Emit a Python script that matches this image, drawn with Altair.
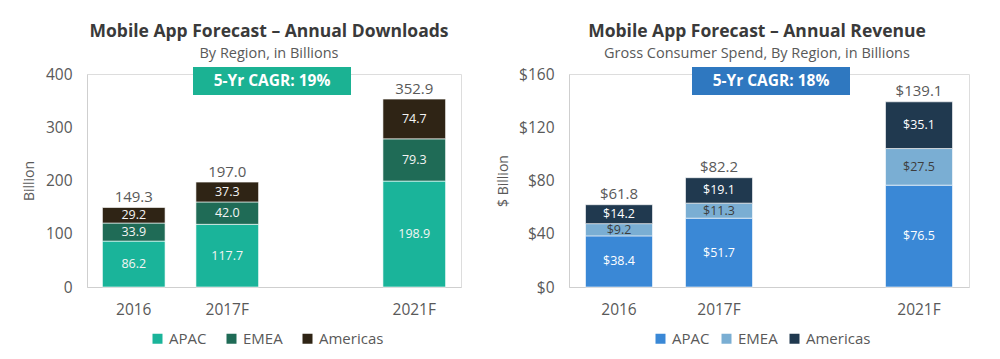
import altair as alt
import pandas as pd

slots = ["2016", "2017F", " ", "2021F"]
years = ["2016", "2017F", "2021F"]
regions = ["APAC", "EMEA", "Americas"]

dl_apac = [86.2, 117.7, 198.9]
dl_emea = [33.9, 42.0, 79.3]
dl_amer = [29.2, 37.3, 74.7]
dl_total = [149.3, 197.0, 352.9]

rev_apac = [38.4, 51.7, 76.5]
rev_emea = [9.2, 11.3, 27.5]
rev_amer = [14.2, 19.1, 35.1]
rev_total = [61.8, 82.2, 139.1]

dl_colors = ["#1ab49a", "#1f6b56", "#2f2415"]
rev_colors = ["#3a88d6", "#7aaed3", "#20394f"]

FONT = "Open Sans"
GRAY = "#595959"


def long_df(series):
    rows = []
    for i, (reg, vals) in enumerate(zip(regions, series)):
        for y, v in zip(years, vals):
            rows.append({"year": y, "region": reg, "ord": i, "value": v})
    return pd.DataFrame(rows)


def panel(series, totals, colors, ymax, ystep, yfmt, lblfmt, ytitle,
          title, subtitle, cagr, cagr_color, width, emea_dark, legx, colpad, tpad,
          boxdx, tdx):
    df = long_df(series)
    tot = pd.DataFrame({"year": years, "total": totals})
    xenc = alt.X("year:N", scale=alt.Scale(domain=slots, paddingInner=0.33, paddingOuter=0.165),
                 axis=alt.Axis(title=None, labelAngle=0, ticks=False, domainColor="#cfcfcf",
                               labelFontSize=15.5, labelColor=GRAY, labelPadding=15,
                               labelFont=FONT))
    yscale = alt.Scale(domain=[0, ymax])
    bars = alt.Chart(df).mark_bar(stroke="white", strokeWidth=0.6).encode(
        x=xenc,
        y=alt.Y("value:Q", stack="zero", scale=yscale,
                axis=alt.Axis(values=list(range(0, ymax + 1, ystep)), format=yfmt, grid=False,
                              ticks=False, domainColor="#cfcfcf", labelFontSize=15.5,
                              labelColor=GRAY, labelPadding=15, labelFont=FONT,
                              title=ytitle, titleFontSize=14, titleFontWeight="normal",
                              titleColor=GRAY, titlePadding=tpad, titleFont=FONT)),
        color=alt.Color("region:N", scale=alt.Scale(domain=regions, range=colors),
                        legend=alt.Legend(title=None, orient="none", legendX=legx, legendY=257,
                                          direction="horizontal", symbolType="square",
                                          symbolSize=100, symbolStrokeWidth=0,
                                          labelFontSize=15, labelColor=GRAY, labelFont=FONT,
                                          columnPadding=colpad, labelOffset=4)),
        order=alt.Order("ord:Q"),
    )
    if emea_dark:
        tcolor = alt.condition("datum.region == 'EMEA'", alt.value("#3d3d3d"), alt.value("white"))
    else:
        tcolor = alt.value("#f4f4f4")
    seg = alt.Chart(df).transform_stack(
        stack="value", groupby=["year"], as_=["y0", "y1"],
        sort=[alt.SortField("ord", order="ascending")]
    ).transform_calculate(mid="(datum.y0 + datum.y1) / 2").mark_text(
        fontSize=12.5, font=FONT, baseline="middle"
    ).encode(x=alt.X("year:N", scale=alt.Scale(domain=slots)), y=alt.Y("mid:Q", scale=yscale),
             text=alt.Text("value:Q", format=lblfmt), color=tcolor)
    tl = alt.Chart(tot).mark_text(fontSize=15, font=FONT, baseline="middle", dy=-10.5,
                                  color=GRAY).encode(
        x=alt.X("year:N", scale=alt.Scale(domain=slots)),
        y=alt.Y("total:Q", scale=yscale),
        text=alt.Text("total:Q", format=lblfmt))
    cdf = pd.DataFrame({"label": [cagr]})
    box = alt.Chart(cdf).mark_rect(color=cagr_color).encode(
        x=alt.value(width / 2 - 81 + boxdx), x2=alt.value(width / 2 + 77 + boxdx),
        y=alt.value(-7), y2=alt.value(21))
    btxt = alt.Chart(cdf).mark_text(color="white", fontSize=15.5, fontWeight="bold",
                                    font=FONT, baseline="middle").encode(
        x=alt.value(width / 2 - 2 + boxdx), y=alt.value(7), text="label:N")
    return alt.layer(bars, seg, tl, box, btxt).properties(
        width=width, height=213,
        title=alt.TitleParams(text=title, subtitle=subtitle, fontSize=17.5, font=FONT,
                              fontWeight="bold", color="#3a3a3a", subtitleFont=FONT,
                              subtitleFontSize=14.5, subtitleColor=GRAY, subtitlePadding=6,
                              frame="group", anchor="middle", offset=7, dx=tdx))


left = panel([dl_apac, dl_emea, dl_amer], dl_total, dl_colors, 400, 100, "d", ".1f", "Billion",
             "Mobile App Forecast \u2013 Annual Downloads", "By Region, in Billions",
             "5-Yr CAGR: 19%", "#1bb293", 374, False, 63, 17, 9, 0, -5)
right = panel([rev_apac, rev_emea, rev_amer], rev_total, rev_colors, 160, 40, "$d", "$.1f",
              "$ Billion", "Mobile App Forecast \u2013 Annual Revenue",
              "Gross Consumer Spend, By Region, in Billions",
              "5-Yr CAGR: 18%", "#2f78c0", 400, True, 84, 9, 8, 4, -12)

chart = alt.hconcat(left, right, spacing=34).resolve_scale(color="independent").resolve_legend(
    color="independent").configure_view(stroke=None).properties(
    padding={"left": 13, "top": 14, "right": 5, "bottom": 5}
).configure(font=FONT)

chart.save("out.html", embed_options={"renderer": "svg", "actions": False})
